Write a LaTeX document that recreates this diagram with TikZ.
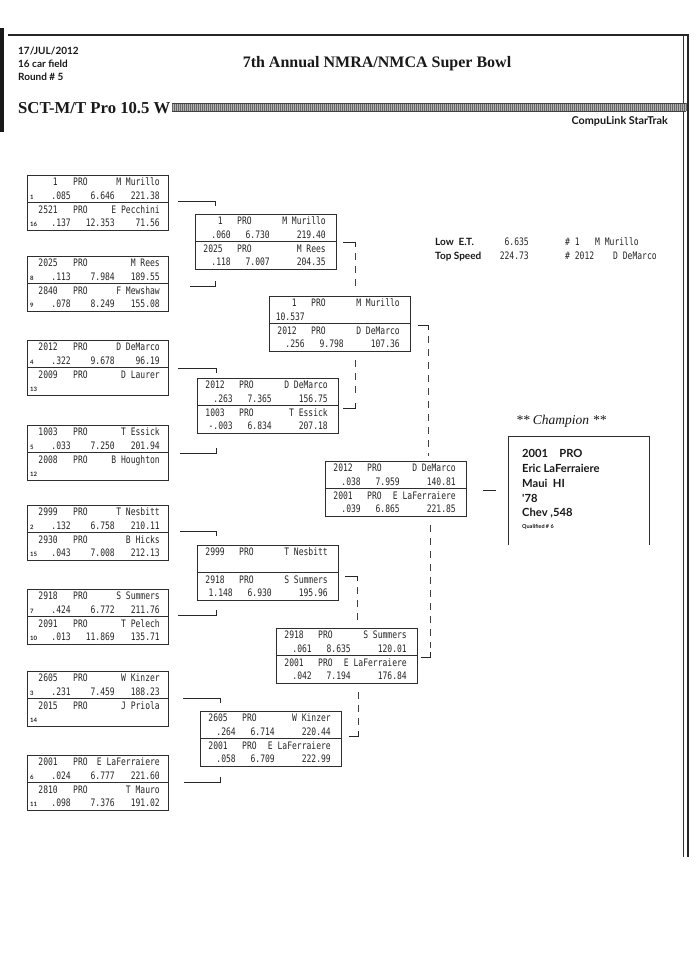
\documentclass[tikz,border=0pt]{standalone}
\usepackage{fontspec}
\setmainfont{Liberation Serif}
\newfontfamily\monof[FakeStretch=0.78]{DejaVu Sans Mono}
\newfontfamily\gillf{Lato}
\tikzset{
  rbx/.style={draw=black!82, line width=0.9pt, rectangle, minimum width=141pt, minimum height=55pt, inner sep=0pt, outer sep=0pt},
  midl/.style={draw=black!82, line width=0.8pt},
  mono/.style={font=\monof\fontsize{10.3}{11}\selectfont, text=black!85, inner sep=0pt},
  seedf/.style={font=\gillf\bfseries\fontsize{6}{7}\selectfont, text=black!85, inner sep=0pt},
  hdr/.style={font=\gillf\bfseries\fontsize{10}{11}\selectfont, text=black!90, inner sep=0pt},
  champf/.style={font=\gillf\bfseries\fontsize{11.2}{13}\selectfont, text=black!90, inner sep=0pt},
  brk/.style={draw=black!85, line width=0.9pt},
  dsh/.style={draw=black!75, line width=0.9pt, dash pattern=on 7pt off 6pt},
}
\newcommand\rbx[3]{\xdef\BXo{#2}\xdef\BYo{#3}%
  \node[rbx] (#1) at ({#2+70.5},{#3+27.5}) {};%
  \draw[midl] (#1.west) -- (#1.east);}
\newcommand\lane[8]{%
  \pgfmathsetmacro\Ya{\BYo+10.5+27.5*#2}%
  \pgfmathsetmacro\Yb{\BYo+24+27.5*#2}%
  \node[mono,anchor=base east] (#1-car#2) at ({\BXo+\Occ},\Ya) {#3};%
  \node[mono,anchor=base west] (#1-cls#2) at ({\BXo+\Opr},\Ya) {PRO};%
  \node[mono,anchor=base east] (#1-nm#2) at ({\BXo+\Onm},\Ya) {#4};%
  \node[seedf,anchor=base west] (#1-sd#2) at ({\BXo+\Osd},\Yb) {#5};%
  \node[mono,anchor=base east] (#1-rt#2) at ({\BXo+\Ort},\Yb) {#6};%
  \node[mono,anchor=base east] (#1-et#2) at ({\BXo+\Oet},\Yb) {#7};%
  \node[mono,anchor=base east] (#1-sp#2) at ({\BXo+\Osp},\Yb) {#8};}
\newcommand\colsA{\def\Occ{31}\def\Opr{46}\def\Onm{133}\def\Osd{3}\def\Ort{44}\def\Oet{88}\def\Osp{133}}
\newcommand\colsB{\def\Occ{28}\def\Opr{42}\def\Onm{131}\def\Osd{3}\def\Ort{36}\def\Oet{75}\def\Osp{131}}
\newcommand\tickbr[5]{% name, x1, x2, y, drop
  \coordinate (#1-s) at (#2,#4); \coordinate (#1-c) at (#3,#4); \coordinate (#1-e) at ({#3},{#4+#5});
  \draw[brk] (#1-s) -- (#1-c) -- (#1-e);}
\newcommand\dashbr[4]{% name, x, y1, y2
  \coordinate (#1-a) at (#2,#3); \coordinate (#1-b) at (#2,#4);
  \draw[dsh] (#1-a) -- (#1-b);}
\begin{document}
\begin{tikzpicture}[x=1pt,y=-1pt]
\useasboundingbox (0,0) rectangle (700,959);
\fill[white] (0,0) rectangle (700,959);
% frame
\fill[black!90] (0,28) rectangle (4,132);
\draw[line width=1.8pt, black!85] (8,35) -- (689,35);
\draw[line width=0.9pt, black!80] (683,35) -- (683,857);
\draw[line width=1.3pt, black!85] (688,35) -- (688,857);
% header
\node[hdr,anchor=base west] (date) at (18,54) {17/JUL/2012};
\node[hdr,anchor=base west] (field) at (18,67) {16 car field};
\node[hdr,anchor=base west] (round) at (18,80) {Round \# 5};
\node[font=\bfseries\fontsize{16}{18}\selectfont, text=black!90, inner sep=0pt, anchor=base] (title) at (377,67) {7th Annual NMRA/NMCA Super Bowl};
\node[font=\bfseries\fontsize{16.7}{18}\selectfont, text=black!90, inner sep=0pt, anchor=base west] (cls) at (18,113) {SCT-M/T Pro 10.5 W};
\fill[black!30] (172,103) rectangle (686,111);
\foreach \i in {172,174,...,686} \draw[black!60, line width=0.45pt] (\i,103) -- (\i,111);
\draw[black!75, line width=0.6pt] (172,103) -- (686,103) (172,111) -- (686,111);
\node[hdr,font=\gillf\bfseries\fontsize{10.8}{12}\selectfont,anchor=base east] (compu) at (668,124) {CompuLink StarTrak};
% round 1
\colsA
\rbx{r1a}{27}{175}
\lane{r1a}{0}{1}{M Murillo}{1}{.085}{6.646}{221.38}
\lane{r1a}{1}{2521}{E Pecchini}{16}{.137}{12.353}{71.56}
\rbx{r1b}{27}{256}
\lane{r1b}{0}{2025}{M Rees}{8}{.113}{7.984}{189.55}
\lane{r1b}{1}{2840}{F Mewshaw}{9}{.078}{8.249}{155.08}
\rbx{r1c}{27}{340}
\lane{r1c}{0}{2012}{D DeMarco}{4}{.322}{9.678}{96.19}
\lane{r1c}{1}{2009}{D Laurer}{13}{}{}{}
\rbx{r1d}{27}{425}
\lane{r1d}{0}{1003}{T Essick}{5}{.033}{7.250}{201.94}
\lane{r1d}{1}{2008}{B Houghton}{12}{}{}{}
\rbx{r1e}{27}{505}
\lane{r1e}{0}{2999}{T Nesbitt}{2}{.132}{6.758}{210.11}
\lane{r1e}{1}{2930}{B Hicks}{15}{.043}{7.008}{212.13}
\rbx{r1f}{27}{589}
\lane{r1f}{0}{2918}{S Summers}{7}{.424}{6.772}{211.76}
\lane{r1f}{1}{2091}{T Pelech}{10}{.013}{11.869}{135.71}
\rbx{r1g}{27}{671}
\lane{r1g}{0}{2605}{W Kinzer}{3}{.231}{7.459}{188.23}
\lane{r1g}{1}{2015}{J Priola}{14}{}{}{}
\rbx{r1h}{27}{755}
\lane{r1h}{0}{2001}{E LaFerraiere}{6}{.024}{6.777}{221.60}
\lane{r1h}{1}{2810}{T Mauro}{11}{.098}{7.376}{191.02}
% round 2
\colsB
\rbx{r2a}{195}{214}
\lane{r2a}{0}{1}{M Murillo}{}{.060}{6.730}{219.40}
\lane{r2a}{1}{2025}{M Rees}{}{.118}{7.007}{204.35}
\rbx{r2b}{197}{378}
\lane{r2b}{0}{2012}{D DeMarco}{}{.263}{7.365}{156.75}
\lane{r2b}{1}{1003}{T Essick}{}{-.003}{6.834}{207.18}
\rbx{r2c}{197}{545}
\lane{r2c}{0}{2999}{T Nesbitt}{}{}{}{}
\lane{r2c}{1}{2918}{S Summers}{}{1.148}{6.930}{195.96}
\rbx{r2d}{200}{711}
\lane{r2d}{0}{2605}{W Kinzer}{}{.264}{6.714}{220.44}
\lane{r2d}{1}{2001}{E LaFerraiere}{}{.058}{6.709}{222.99}
% round 3
\rbx{r3a}{269}{296}
\lane{r3a}{0}{1}{M Murillo}{}{10.537}{}{}
\lane{r3a}{1}{2012}{D DeMarco}{}{.256}{9.798}{107.36}
\rbx{r3b}{276}{628}
\lane{r3b}{0}{2918}{S Summers}{}{.061}{8.635}{120.01}
\lane{r3b}{1}{2001}{E LaFerraiere}{}{.042}{7.194}{176.84}
% final
\rbx{fin}{325}{461}
\lane{fin}{0}{2012}{D DeMarco}{}{.038}{7.959}{140.81}
\lane{fin}{1}{2001}{E LaFerraiere}{}{.039}{6.865}{221.85}
% round 1 -> 2 brackets
\tickbr{b1t}{178}{215}{201}{5}
\tickbr{b1b}{190}{215}{286}{-5}
\tickbr{b2t}{178}{216}{368}{5}
\tickbr{b2b}{180}{216}{453}{-5}
\tickbr{b3t}{180}{216}{531}{5}
\tickbr{b3b}{178}{216}{615}{-5}
\tickbr{b4t}{183}{220}{698}{5}
\tickbr{b4b}{184}{220}{782}{-5}
% round 2 -> 3
\tickbr{c1t}{343}{355}{242}{5}
\dashbr{c1d}{355}{253}{291}
\dashbr{c2d}{355}{360}{398}
\tickbr{c2b}{343}{355}{408}{-5}
\tickbr{c3t}{345}{357}{576}{5}
\dashbr{c3d}{357}{587}{624}
\dashbr{c4d}{358}{692}{728}
\tickbr{c4b}{349}{358}{736}{-5}
% round 3 -> final
\tickbr{d1t}{418}{428}{325}{5}
\dashbr{d1d}{428}{336}{456}
\dashbr{d2d}{430}{525}{648}
\tickbr{d2b}{421}{430}{657}{-5}
% final -> champion
\coordinate (fc-s) at (483,490); \coordinate (fc-e) at (496,490);
\draw[brk] (fc-s) -- (fc-e);
% low ET / top speed
\node[hdr,anchor=base west] (lowl) at (435,245) {Low\ \ E.T.};
\node[hdr,anchor=base west] (topl) at (435,259) {Top Speed};
\node[mono,anchor=base east] (lowv) at (529,245) {6.635};
\node[mono,anchor=base east] (topv) at (529,259) {224.73};
\node[mono,anchor=base west] (lown) at (565,245) {\# 1};
\node[mono,anchor=base west] (topn) at (565,259) {\# 2012};
\node[mono,anchor=base west] (lowd) at (595,245) {M Murillo};
\node[mono,anchor=base west] (topd) at (613,259) {D DeMarco};
% champion
\node[font=\itshape\fontsize{13.5}{15}\selectfont, text=black!90, inner sep=0pt, anchor=base] (champ) at (561,424) {** Champion **};
\draw[black!82, line width=0.9pt] (508,545) -- (508,436) -- (649,436) -- (649,545);
\node[champf,anchor=base west] (ch1) at (522,457) {2001\quad PRO};
\node[champf,anchor=base west] (ch2) at (522,472) {Eric LaFerraiere};
\node[champf,anchor=base west] (ch3) at (522,487) {Maui\ \ HI};
\node[champf,anchor=base west] (ch4) at (522,502) {'78};
\node[champf,anchor=base west] (ch5) at (522,516) {Chev ,548};
\node[font=\gillf\bfseries\fontsize{5.5}{6}\selectfont, text=black!90, inner sep=0pt, anchor=base west] (ch6) at (522,528) {Qualified \# 6};
\end{tikzpicture}
\end{document}
